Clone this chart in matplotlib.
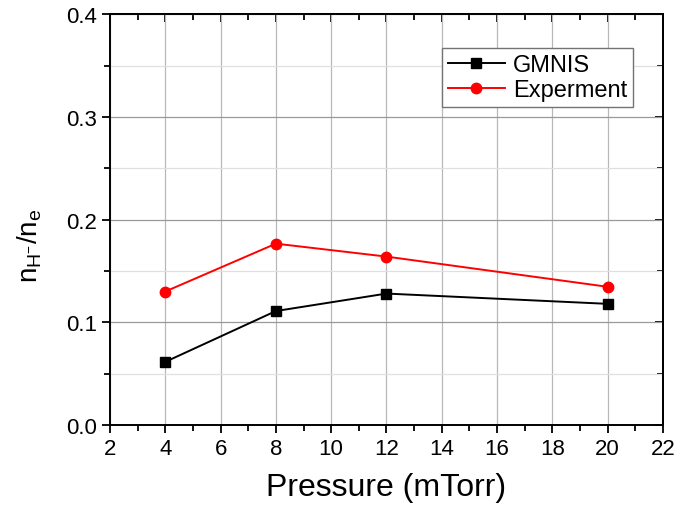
import matplotlib

matplotlib.use("Agg")
import matplotlib.pyplot as plt
from matplotlib.ticker import MultipleLocator, FormatStrFormatter

plt.rcParams["font.family"] = ["Liberation Sans", "DejaVu Sans"]
plt.rcParams["mathtext.fontset"] = "custom"
plt.rcParams["mathtext.rm"] = "Liberation Sans"
plt.rcParams["mathtext.it"] = "Liberation Sans"

# ----- data ---------------------------------------------------------------
pressure = [4, 8, 12, 20]
gmnis = [0.0615, 0.111, 0.128, 0.118]
experiment = [0.130, 0.1766, 0.164, 0.1346]
# --------------------------------------------------------------------------

fig = plt.figure(figsize=(6.76, 5.06), dpi=100)
ax = fig.add_axes([0.1627, 0.158, 0.818, 0.812])

ax.plot(pressure, gmnis, "-s", color="black", lw=1.4, ms=6.5, label="GMNIS")
ax.plot(pressure, experiment, "-o", color="red", lw=1.4, ms=7.5, label="Experment")

ax.set_xlim(2, 22)
ax.set_ylim(0, 0.4)
ax.xaxis.set_major_locator(MultipleLocator(2))
ax.xaxis.set_minor_locator(MultipleLocator(1))
ax.yaxis.set_major_locator(MultipleLocator(0.1))
ax.yaxis.set_minor_locator(MultipleLocator(0.05))
ax.yaxis.set_major_formatter(FormatStrFormatter("%.1f"))

ax.grid(True, which="major", color="0.72", lw=0.9)
ax.grid(True, axis="y", which="major", color="0.6", lw=0.9)
ax.grid(True, axis="y", which="minor", color="0.88", lw=0.9)
ax.set_axisbelow(True)

for s in ax.spines.values():
    s.set_linewidth(1.4)
ax.tick_params(which="both", width=1.3, labelsize=16)
ax.tick_params(which="major", length=6)
ax.tick_params(which="minor", length=4)
# left/bottom ticks outward, mirrored top/right ticks inward
ax.tick_params(axis="x", which="both", direction="out", bottom=True)
ax.tick_params(axis="y", which="both", direction="out", left=True)
top = ax.secondary_xaxis("top")
top.xaxis.set_major_locator(MultipleLocator(2))
top.xaxis.set_minor_locator(MultipleLocator(1))
top.tick_params(which="major", direction="in", length=6, width=1.3, labeltop=False)
top.tick_params(which="minor", direction="in", length=4, width=1.3)
top.spines["top"].set_linewidth(1.4)
right = ax.secondary_yaxis("right")
right.yaxis.set_major_locator(MultipleLocator(0.1))
right.yaxis.set_minor_locator(MultipleLocator(0.05))
right.tick_params(which="major", direction="in", length=6, width=1.3, labelright=False)
right.tick_params(which="minor", direction="in", length=4, width=1.3)
right.spines["right"].set_linewidth(1.4)

ax.set_xlabel("Pressure (mTorr)", fontsize=23, labelpad=9)
ax.set_ylabel(r"$\mathregular{n_{H^{-}}/n_e}$", fontsize=20)
ax.yaxis.set_label_coords(-0.12, 0.44)

leg = ax.legend(loc="upper right", bbox_to_anchor=(0.946, 0.918), fontsize=17,
                fancybox=False, edgecolor="0.45", framealpha=1,
                handlelength=2.4, borderpad=0.25, labelspacing=0.15,
                handletextpad=0.35, borderaxespad=0)
leg.get_frame().set_linewidth(1.0)

fig.savefig("out.png", dpi=100)
